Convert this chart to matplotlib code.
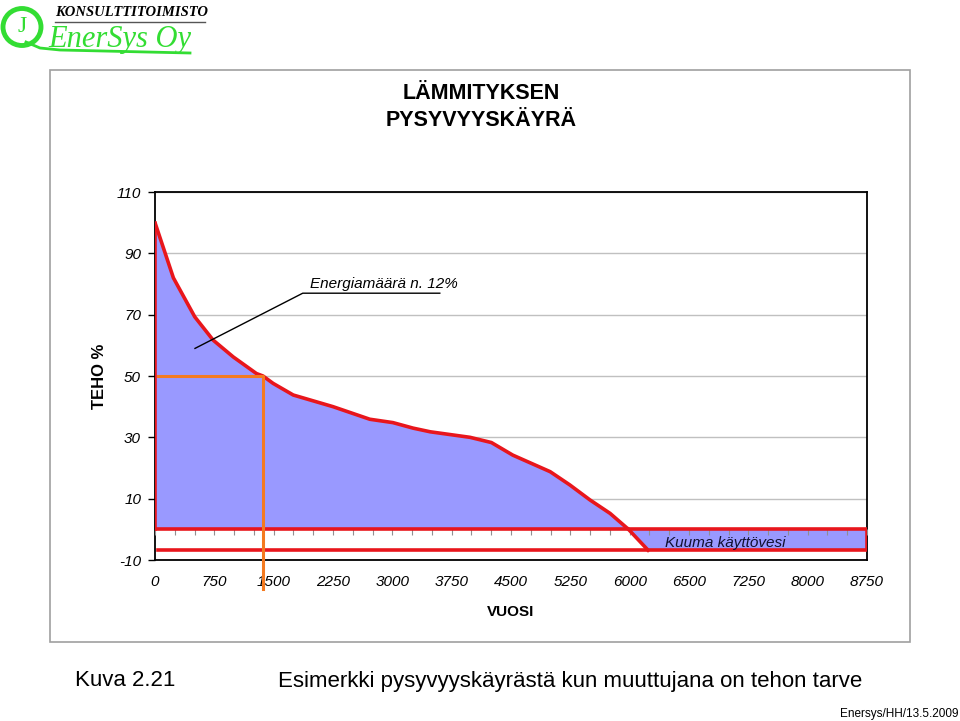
import numpy as np
import matplotlib.pyplot as plt
from matplotlib.patches import Rectangle, Ellipse

plt.rcParams['font.family'] = ['Liberation Sans', 'DejaVu Sans']

# Pysyvyyskäyrä: x = paikka luokka-akselilla (0..12), teho %
kayra_x = [0.0, 0.31, 0.67, 0.98, 1.32, 1.71, 1.82, 1.99, 2.33, 3.0, 3.62, 4.01,
           4.35, 4.64, 5.31, 5.67, 6.03, 6.66, 6.99, 7.33, 7.67, 7.98]
kayra_teho = [100, 82, 69.3, 61.7, 56.2, 50.8, 50, 47.6, 43.8, 40.0, 35.9, 34.8,
              33.0, 31.8, 30.0, 28.3, 24.2, 18.8, 14.5, 9.6, 5.2, 0]

# Kuuma käyttövesi -kaista
kv_taso = -6.8
kv_alku = 7.98
kv_viiste = 8.31
kv_loppu = 12

# Esimerkkipiste (oranssi)
esim_x = 1.82
esim_teho = 50

x_labels = ["0", "750", "1500", "2250", "3000", "3750", "4500", "5250", "6000",
            "6500", "7250", "8000", "8750"]
y_ticks = [-10, 10, 30, 50, 70, 90, 110]

PUNAINEN = "#e8161c"
SININEN = "#9999ff"
ORANSSI = "#f47a20"
VIHREA = "#33dd33"

fig = plt.figure(figsize=(9.6, 7.21), dpi=100)
ax = fig.add_axes([155 / 960, 1 - 560 / 721, 712 / 960, 368 / 721])

# täytöt
ax.fill_between(kayra_x, 0, kayra_teho, color=SININEN, lw=0, zorder=1)
ax.fill([kv_alku, kv_viiste, kv_loppu, kv_loppu], [0, kv_taso, kv_taso, 0],
        color=SININEN, lw=0, zorder=1)

# punaiset reunat
ax.plot(kayra_x, kayra_teho, color=PUNAINEN, lw=2.6, zorder=4, solid_capstyle='butt')
ax.plot([0, 0], [0, kayra_teho[0]], color=PUNAINEN, lw=2.6, zorder=4)
ax.plot([0, kv_loppu, kv_loppu, 0.05], [0, 0, kv_taso, kv_taso],
        color=PUNAINEN, lw=2.6, zorder=4, solid_joinstyle='miter')
ax.plot([kv_alku, kv_viiste], [0, kv_taso], color=PUNAINEN, lw=2.6, zorder=4)

# oranssi esimerkki
ax.plot([0.05, esim_x, esim_x], [esim_teho, esim_teho, -19.5], color=ORANSSI,
        lw=2.2, zorder=5, clip_on=False)

# selitteet
ax.plot([0.674, 2.49, 4.80], [59, 77, 77], color="black", lw=1, zorder=5)
ax.text(2.61, 80, "Energiamäärä n. 12%", fontsize=11, style='italic', va='center')
ax.text(8.6, -4.4, "Kuuma käyttövesi", fontsize=11, style='italic', va='center',
        color="#101030", zorder=6)

# akselit
ax.set_xlim(0, 12)
ax.set_ylim(-10, 110)
ax.set_xticks(range(len(x_labels)))
ax.set_xticklabels(x_labels, fontsize=11, style='italic')
ax.set_yticks(y_ticks)
ax.set_yticklabels([str(v) for v in y_ticks], fontsize=11, style='italic')
ax.tick_params(axis='x', length=0, pad=11)
ax.tick_params(axis='y', length=5, width=1, pad=5)
ax.grid(axis='y', color="#c0c0c0", lw=1)
ax.set_axisbelow(True)
for s in ax.spines.values():
    s.set_linewidth(1.3)

# pienet jakoviivat nollatasolla
sec = ax.secondary_xaxis(10 / 120)
sec.set_xticks(np.arange(0, 12.01, 1 / 3))
sec.tick_params(length=4, width=0.8, color="#909090", labelbottom=False)
sec.spines['bottom'].set_visible(False)
sec.set_zorder(3)

ax.set_ylabel("TEHO %", fontsize=12, fontweight='bold', labelpad=7)
ax.set_xlabel("VUOSI", fontsize=11, fontweight='bold', labelpad=11)

fig.text(0.501, 0.8516, "LÄMMITYKSEN\nPYSYVYYSKÄYRÄ", ha='center', va='center',
         fontsize=15.5, fontweight='bold', linespacing=1.4)

# kaavioalueen kehys
fig.add_artist(Rectangle((50 / 960, 1 - 642 / 721), 860 / 960, 572 / 721,
                         transform=fig.transFigure, fill=False, ec="#a0a0a0", lw=1.2))

# logo
fig.add_artist(Ellipse((22 / 960, 1 - 27 / 721), 38 / 960, 37 / 721,
                       transform=fig.transFigure, fill=False, ec=VIHREA, lw=3.5))
fig.add_artist(plt.Line2D([26 / 960, 40 / 960, 60 / 960, 190 / 960],
                          [1 - 42 / 721, 1 - 48 / 721, 1 - 50 / 721, 1 - 53 / 721],
                          color=VIHREA, lw=2))
fig.text(22 / 960, 1 - 26 / 721, "J", fontsize=17, family='Liberation Serif',
         color=VIHREA, va='center', ha='center')
fig.text(55 / 960, 1 - 12 / 721, "KONSULTTITOIMISTO", fontsize=10.5, family='Liberation Serif',
         style='italic', fontweight='bold', va='center', ha='left')
fig.add_artist(plt.Line2D([55 / 960, 205 / 960], [1 - 22 / 721, 1 - 22 / 721],
                          color="#555555", lw=1))
fig.text(48 / 960, 1 - 39 / 721, "EnerSys Oy", fontsize=22, family='Liberation Serif',
         style='italic', color=VIHREA, va='center', ha='left')

# kuvateksti
fig.text(75 / 960, 1 - 681 / 721, "Kuva 2.21", fontsize=16, va='center', ha='left')
fig.text(278 / 960, 1 - 681 / 721, "Esimerkki pysyvyyskäyrästä kun muuttujana on tehon tarve",
         fontsize=16, va='center', ha='left')
fig.text(0.998, 1 - 714 / 721, "Enersys/HH/13.5.2009", fontsize=8.5, va='center', ha='right')

fig.savefig("out.png", dpi=100)
